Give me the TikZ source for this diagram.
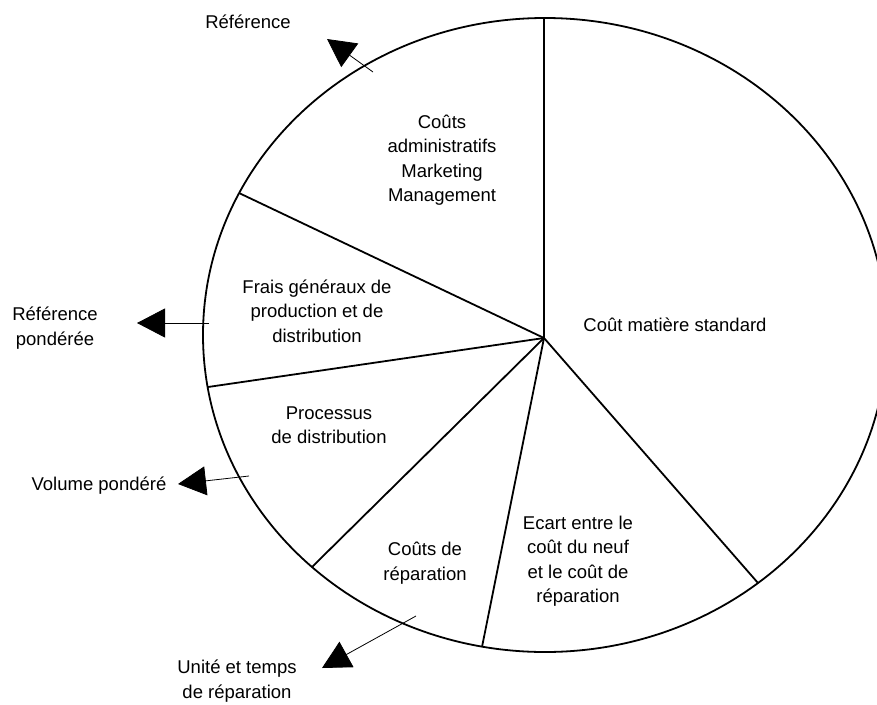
\documentclass[tikz,border=0pt]{standalone}
\usepackage{fontspec}
\setmainfont{Liberation Sans}
\usetikzlibrary{arrows.meta}
\begin{document}
\begin{tikzpicture}[x=1pt,y=-1pt,
  lbl/.style={font=\fontsize{18.5}{24.5}\selectfont, align=center, inner sep=0pt},
  spoke/.style={line width=1.8pt},
  pointer/.style={line width=0.8pt, -{Triangle[length=28pt,width=29pt]}}]
\useasboundingbox (0,0) rectangle (877,704);
\clip (0,0) rectangle (877,704);
% ellipse and hub
\coordinate (c) at (545,335);
\coordinate (hub) at (544,338);
\draw[spoke] (c) ellipse [x radius=342pt, y radius=317pt];
% spoke ends on the rim
\coordinate (r1) at (544,18);
\coordinate (r2) at (239,193);
\coordinate (r3) at (208,387);
\coordinate (r4) at (312,567);
\coordinate (r5) at (482,647);
\coordinate (r6) at (758,583);
\foreach \r in {r1,r2,r3,r4,r5,r6} \draw[spoke] (hub) -- (\r);
% sector labels
\node[lbl] (admin) at (442,160) {Coûts\\administratifs\\Marketing\\Management};
\node[lbl] (frais) at (317,311) {Frais généraux de\\production et de\\distribution};
\node[lbl] (proc) at (329,425) {Processus\\de distribution};
\node[lbl] (rep) at (425,563) {Coûts de\\réparation};
\node[lbl] (ecart) at (578,561) {Ecart entre le\\coût du neuf\\et le coût de\\réparation};
\node[lbl] (mat) at (675,325) {Coût matière standard};
% outer labels
\node[lbl] (ref) at (248,22) {Référence};
\node[lbl] (refp) at (55,328) {Référence\\pondérée};
\node[lbl] (vol) at (99,486) {Volume pondéré};
\node[lbl] (unit) at (237,681) {Unité et temps\\de réparation};
% pointers
\coordinate (a1s) at (373,72);  \coordinate (a1e) at (327,39);
\coordinate (a2s) at (209,323); \coordinate (a2e) at (137,323);
\coordinate (a3s) at (249,476); \coordinate (a3e) at (178,484);
\coordinate (a4s) at (416,616); \coordinate (a4e) at (322,668);
\draw[pointer] (a1s) -- (a1e);
\draw[pointer] (a2s) -- (a2e);
\draw[pointer] (a3s) -- (a3e);
\draw[pointer] (a4s) -- (a4e);
\end{tikzpicture}
\end{document}
